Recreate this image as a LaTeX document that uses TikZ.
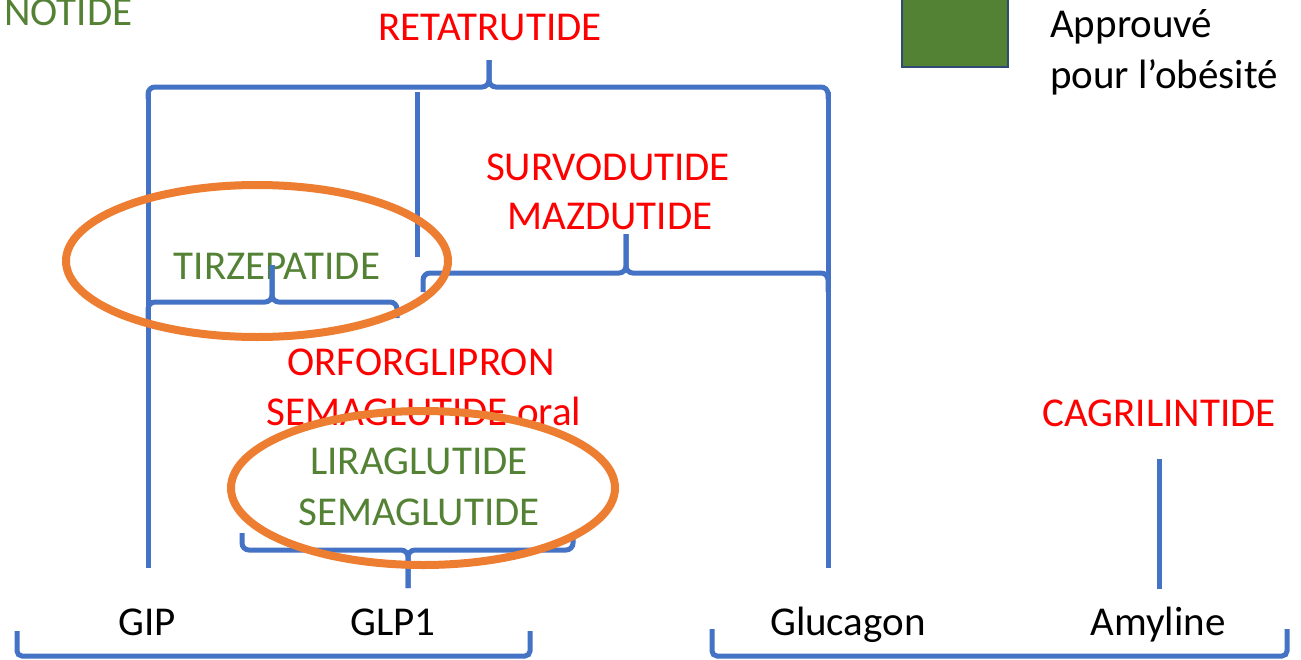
\documentclass[tikz,border=0pt]{standalone}
\usepackage{fontspec}
\setmainfont{Carlito}
\definecolor{drugred}{HTML}{FF0000}
\definecolor{okgreen}{HTML}{548235}
\definecolor{linkblue}{HTML}{4472C4}
\definecolor{ringorange}{HTML}{ED7D31}
\definecolor{keyedge}{HTML}{2F4B73}
% horizontal curly brace: x-left, x-right, x-tip, y-bar, y-ends, y-tip
\newcommand{\hbrace}[6]{%
  \draw[link, rounded corners=7pt] (#1,#5) -- (#1,#4) -- (#3,#4) -- (#3,#6);
  \draw[link, rounded corners=7pt] (#3,#6) -- (#3,#4) -- (#2,#4) -- (#2,#5);
}
\begin{document}
\begin{tikzpicture}[x=1pt, y=-1pt,
  lbl/.style={font=\fontsize{41}{49}\selectfont, anchor=base, inner sep=0pt},
  drug/.style={lbl, text=drugred},
  okdrug/.style={lbl, text=okgreen},
  hormone/.style={lbl, text=black},
  link/.style={draw=linkblue, line width=5pt},
  ring/.style={draw=ringorange, line width=8pt},
  keybox/.style={draw=keyedge, line width=1.5pt, fill=okgreen, minimum width=106pt, minimum height=80pt, inner sep=0pt}]
\useasboundingbox (0,0) rectangle (1301,659);
\clip (0,0) rectangle (1301,659);

% drug names
\node[okdrug, anchor=base west] (notide) at (4,25) {NOTIDE};
\node[drug] (reta) at (490,40) {RETATRUTIDE};
\node[drug] (survo) at (608,180) {SURVODUTIDE};
\node[drug] (mazdu) at (610,229) {MAZDUTIDE};
\node[okdrug] (tirze) at (277,279) {TIRZEPATIDE};
\node[drug] (orfor) at (421,375) {ORFORGLIPRON};
\node[drug] (semaoral) at (424,425) {SEMAGLUTIDE oral};
\node[okdrug] (lira) at (419,474) {LIRAGLUTIDE};
\node[okdrug] (sema) at (419,525) {SEMAGLUTIDE};
\node[drug] (cagri) at (1159,426) {CAGRILINTIDE};

% hormones
\node[hormone] (gip) at (147,635) {GIP};
\node[hormone] (glp) at (393,635) {GLP1};
\node[hormone] (gcg) at (848,635) {Glucagon};
\node[hormone] (amy) at (1158,635) {Amyline};

% legend
\node[keybox] (key) at (955,27) {};
\node[lbl, text=black, anchor=base west] (keytxt1) at (1050,37) {Approuvé};
\node[lbl, text=black, anchor=base west] (keytxt2) at (1050,88) {pour l’obésité};

% receptor columns
\draw[link] (148,92) -- (148,568);
\draw[link] (828,92) -- (828,568);
\draw[link] (417,92) -- (417,257);
\draw[link] (1159,459) -- (1159,589);

% braces grouping the agonists
\hbrace{148}{828}{489}{87}{99}{60}
\hbrace{423}{828}{626}{273}{292}{234}
\hbrace{148}{397}{272}{302}{318}{265}
\hbrace{242}{573}{408}{550}{533}{588}

% brackets under the hormones
\draw[link, rounded corners=5pt] (17,631) -- (17,656) -- (530,656) -- (530,631);
\draw[link, rounded corners=5pt] (712,629) -- (712,656) -- (1287,656) -- (1287,629);

% approved drugs circled
\draw[ring] (257,261) ellipse [x radius=191pt, y radius=76pt];
\draw[ring] (423,488) ellipse [x radius=192pt, y radius=77pt];
\end{tikzpicture}
\end{document}
